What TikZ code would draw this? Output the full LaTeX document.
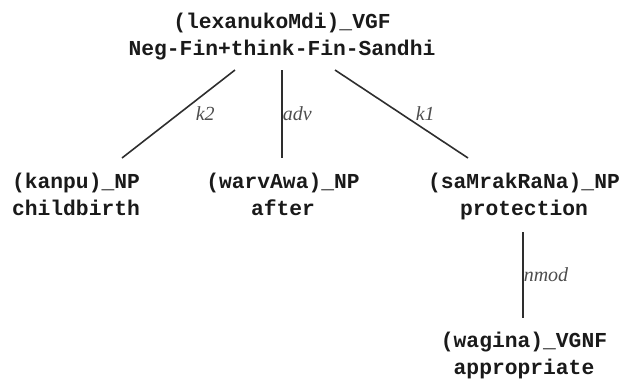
\documentclass[tikz,border=0pt]{standalone}
\usepackage{fontspec}
\setmonofont{Liberation Mono}
\newfontfamily\lblfont{Liberation Serif}
\usetikzlibrary{calc}
\definecolor{txt}{HTML}{1A1A1A}
\definecolor{edgec}{HTML}{2E2E2E}
\definecolor{lblc}{HTML}{4D4D4D}
\tikzset{
  word/.style={inner sep=0pt, align=center, anchor=base, text=txt,
    font=\ttfamily\bfseries\fontsize{21.3}{27}\selectfont},
  edge/.style={draw=edgec, line width=1.6pt},
  rel/.style={inner sep=0pt, anchor=west, text=lblc,
    font=\lblfont\itshape\fontsize{20}{22}\selectfont}
}
\begin{document}
\begin{tikzpicture}[x=1pt,y=-1pt]
\useasboundingbox (0,0) rectangle (624,381);
\node[word] (root) at (282,55) {(lexanukoMdi)\_VGF\\Neg-Fin+think-Fin-Sandhi};
\node[word] (kanpu) at (76,215) {(kanpu)\_NP\\childbirth};
\node[word] (warv) at (283,215) {(warvAwa)\_NP\\after};
\node[word] (samr) at (524,215) {(saMrakRaNa)\_NP\\protection};
\node[word] (wag) at (524,374) {(wagina)\_VGNF\\appropriate};
\draw[edge] ($(root.base)+(-47,15)$) -- node[rel, xshift=16.5pt] (lk2) {k2} ($(kanpu.base)+(46,-57)$);
\draw[edge] ($(root.base)+(0,15)$) -- node[rel] (ladv) {adv} ($(warv.base)+(-1,-57)$);
\draw[edge] ($(root.base)+(53,15)$) -- node[rel, xshift=13.5pt] (lk1) {k1} ($(samr.base)+(-56,-57)$);
\draw[edge] ($(samr.base)+(-1,17)$) -- node[rel] (lnmod) {nmod} ($(wag.base)+(-1,-56)$);
\end{tikzpicture}
\end{document}
